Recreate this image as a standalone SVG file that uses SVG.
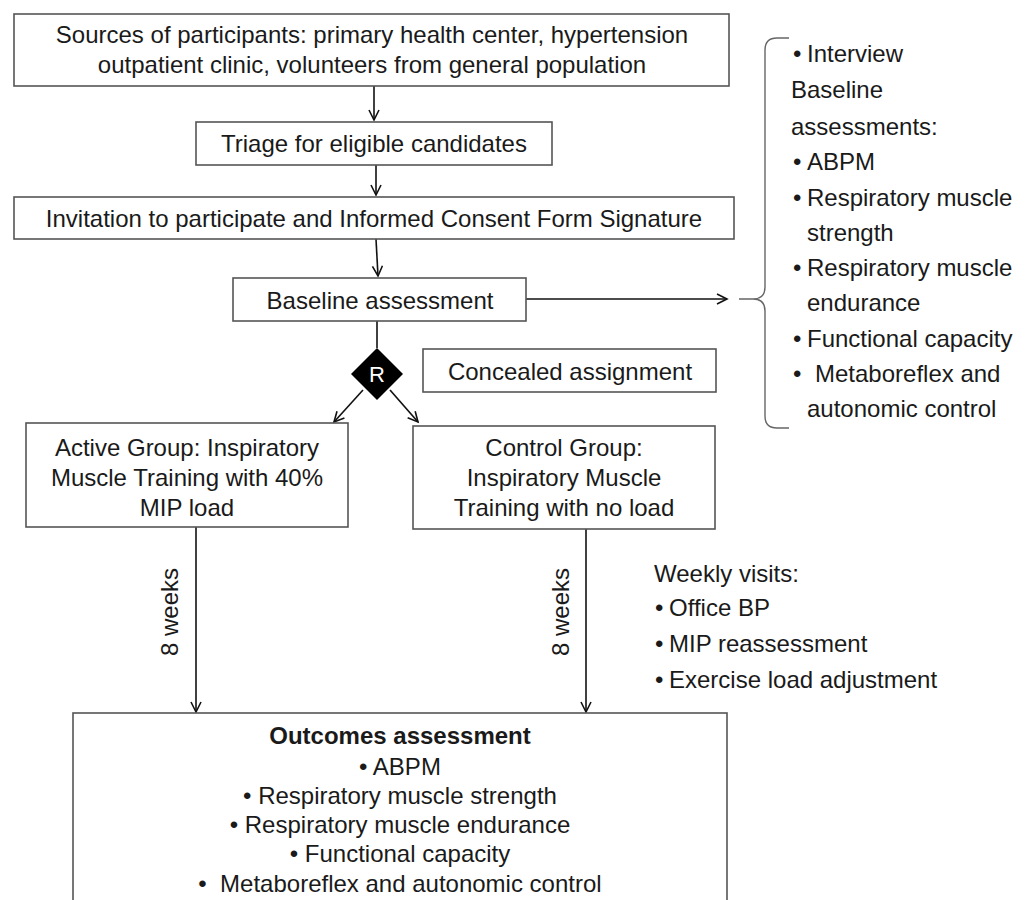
<svg xmlns="http://www.w3.org/2000/svg" width="1029" height="900" viewBox="0 0 1029 900">
<style>
.box{fill:#fff;stroke:#555;stroke-width:1.6}
.t{font-family:"Liberation Sans",Arial,sans-serif;font-size:24px;fill:#1a1a1a;dominant-baseline:central}
.c{text-anchor:middle}
.b{font-weight:bold}
.ln{stroke:#111;stroke-width:1.6;fill:none}
</style>
<defs>
<marker id="ah" markerWidth="14" markerHeight="14" refX="11" refY="6" orient="auto" markerUnits="userSpaceOnUse">
<path d="M1,1 L11,6 L1,11" fill="none" stroke="#111" stroke-width="1.6"/>
</marker>
</defs>
<rect width="1029" height="900" fill="#fff"/>
<g id="connectors">
<line class="ln" x1="374" y1="86" x2="374" y2="120" marker-end="url(#ah)"/>
<line class="ln" x1="376" y1="165" x2="376" y2="195" marker-end="url(#ah)"/>
<line class="ln" x1="376" y1="239" x2="378" y2="276" marker-end="url(#ah)"/>
<line class="ln" x1="526" y1="299" x2="727" y2="299" marker-end="url(#ah)"/>
<line class="ln" x1="377" y1="321" x2="377" y2="348"/>
<line class="ln" x1="363" y1="390" x2="334" y2="422" marker-end="url(#ah)"/>
<line class="ln" x1="390" y1="390" x2="418" y2="422" marker-end="url(#ah)"/>
<line class="ln" x1="196" y1="527" x2="196" y2="712" marker-end="url(#ah)"/>
<line class="ln" x1="586" y1="529" x2="586" y2="712" marker-end="url(#ah)"/>
<text class="t c" transform="rotate(-90 169 612)" x="169" y="612">8 weeks</text>
<text class="t c" transform="rotate(-90 560 612)" x="560" y="612">8 weeks</text>
</g>
<g id="sources">
<rect class="box" x="14" y="14" width="715" height="72"/>
<text class="t c" x="372" y="34">Sources of participants: primary health center, hypertension</text>
<text class="t c" x="372" y="64">outpatient clinic, volunteers from general population</text>
</g>
<g id="triage">
<rect class="box" x="196" y="122" width="356" height="43"/>
<text class="t c" x="374" y="143">Triage for eligible candidates</text>
</g>
<g id="invitation">
<rect class="box" x="14" y="197" width="720" height="42"/>
<text class="t c" x="374" y="218">Invitation to participate and Informed Consent Form Signature</text>
</g>
<g id="baseline">
<rect class="box" x="233" y="278" width="293" height="43"/>
<text class="t c" x="380" y="300">Baseline assessment</text>
</g>
<g id="baseline-list">
<path d="M739,299 L753,299 Q765,299 765,287 L765,50 Q765,38 777,38 L789,38 M753,299 Q765,299 765,311 L765,416 Q765,428 777,428 L789,428" fill="none" stroke="#666" stroke-width="1.4"/>
<text class="t" x="793" y="53">•</text><text class="t" x="807" y="53">Interview</text>
<text class="t" x="791" y="89">Baseline</text>
<text class="t" x="791" y="126">assessments:</text>
<text class="t" x="793" y="161">•</text><text class="t" x="807" y="161">ABPM</text>
<text class="t" x="793" y="197">•</text><text class="t" x="807" y="197">Respiratory muscle</text>
<text class="t" x="807" y="232">strength</text>
<text class="t" x="793" y="267">•</text><text class="t" x="807" y="267">Respiratory muscle</text>
<text class="t" x="807" y="302">endurance</text>
<text class="t" x="793" y="338">•</text><text class="t" x="807" y="338">Functional capacity</text>
<text class="t" x="793" y="373">•</text><text class="t" x="815" y="373">Metaboreflex and</text>
<text class="t" x="807" y="408">autonomic control</text>
</g>
<g id="randomization">
<polygon points="377,348 403,374 377,400 351,374" fill="#000"/>
<text class="t c" x="377" y="374" fill="#fff" style="fill:#fff;font-size:22px">R</text>
</g>
<g id="concealed">
<rect class="box" x="423" y="349" width="293" height="43"/>
<text class="t c" x="570" y="371">Concealed assignment</text>
</g>
<g id="active">
<rect class="box" x="26" y="423" width="322" height="104"/>
<text class="t c" x="187" y="447">Active Group: Inspiratory</text>
<text class="t c" x="187" y="477">Muscle Training with 40%</text>
<text class="t c" x="187" y="507">MIP load</text>
</g>
<g id="control">
<rect class="box" x="413" y="426" width="302" height="103"/>
<text class="t c" x="564" y="447">Control Group:</text>
<text class="t c" x="564" y="477">Inspiratory Muscle</text>
<text class="t c" x="564" y="507">Training with no load</text>
</g>
<g id="weekly">
<text class="t" x="654" y="573">Weekly visits:</text>
<text class="t" x="655" y="607">•</text><text class="t" x="669" y="607">Office BP</text>
<text class="t" x="655" y="643">•</text><text class="t" x="669" y="643">MIP reassessment</text>
<text class="t" x="655" y="679">•</text><text class="t" x="669" y="679">Exercise load adjustment</text>
</g>
<g id="outcomes">
<rect class="box" x="73" y="713" width="654" height="200"/>
<text class="t c b" x="400" y="735">Outcomes assessment</text>
<text class="t c" x="400" y="766">• ABPM</text>
<text class="t c" x="400" y="795">• Respiratory muscle strength</text>
<text class="t c" x="400" y="824">• Respiratory muscle endurance</text>
<text class="t c" x="400" y="853">• Functional capacity</text>
<text class="t c" x="400" y="883" xml:space="preserve">•  Metaboreflex and autonomic control</text>
</g>
</svg>
